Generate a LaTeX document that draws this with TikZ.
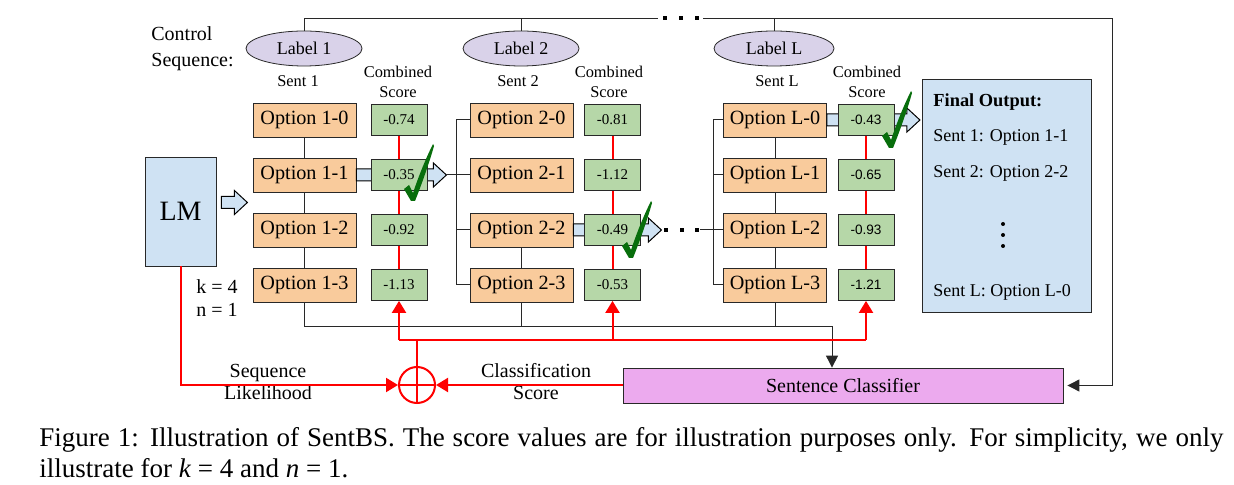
\documentclass[tikz,border=0pt]{standalone}
\usepackage{fontspec}
\setmainfont{Liberation Serif}
\newfontfamily\arialf{Liberation Sans}
\usetikzlibrary{arrows.meta}
\usetikzlibrary{positioning}
\usetikzlibrary{calc}
\usetikzlibrary{shapes.geometric}
\definecolor{mpeach}{RGB}{249,203,156}
\definecolor{mgreen}{RGB}{182,215,168}
\definecolor{mlav}{RGB}{217,210,233}
\definecolor{mblue}{RGB}{207,226,243}
\definecolor{mpink}{RGB}{236,170,238}
\definecolor{mred}{RGB}{255,0,0}
\definecolor{mcheck}{RGB}{8,110,12}
\definecolor{mline}{RGB}{40,40,40}
\tikzset{opt/.style = {draw=mline, fill=mpeach, minimum width=51.5pt, minimum height=17pt, inner sep=0, font=\fontsize{10.1}{12}\selectfont}}
\tikzset{score/.style = {draw=mline, fill=mgreen, minimum width=28pt, minimum height=15.5pt, inner sep=0, font=\fontsize{7.5}{9}\selectfont}}
\tikzset{sscore/.style = {score, font=\arialf\fontsize{6.8}{8}\selectfont}}
\tikzset{lab/.style = {draw=mline, fill=mlav, ellipse, minimum width=58pt, minimum height=17.5pt, inner sep=0, font=\fontsize{9}{11}\selectfont}}
\tikzset{small/.style = {inner sep=0, align=center, font=\fontsize{8.2}{10}\selectfont}}
\tikzset{txt/.style = {inner sep=0, align=center, font=\fontsize{10}{11}\selectfont}}
\tikzset{fo/.style = {inner sep=0, anchor=west, font=\fontsize{9}{11}\selectfont}}
\tikzset{link/.style = {draw=mline, line width=0.5pt}}
\tikzset{arr/.style = {link, -{Triangle[width=6pt,length=6pt]}}}
\tikzset{redl/.style = {draw=mred, line width=1pt}}
\tikzset{redarr/.style = {redl, -{Triangle[width=7pt,length=6pt]}}}
\tikzset{fat/.style = {draw=black, fill=mblue, line width=0.5pt}}
\tikzset{okmark/.pic = {\fill[mcheck] (-7,-11) -- (-2,-15) -- (2,-7) .. controls (8,-25) and (15,-42) .. (22,-56) -- (23,-54) .. controls (18,-36) and (10,-14) .. (4,1) -- (0,1) -- cycle;}}
\newcommand{\fatarr}[3]{\draw[fat] (#1) ++(0,-6) -- ++(#2,0) -- ++(0,-6) -- ++(13,12) coordinate (#3) -- ++(-13,12) -- ++(0,-6) -- ++(-#2,0) -- cycle;}

\begin{document}
\begin{tikzpicture}[x=0.5pt, y=-0.5pt]
       \useasboundingbox (0,0) rectangle (1234,485);

       % control sequence
       \node [txt, align=left, anchor=west, font=\fontsize{10}{13}\selectfont] (ctl) at (151,49) {Control\\Sequence:};
       \node [lab] (lab1) at (304,48.5) {Label 1};
       \node [lab] (lab2) at (521,48.5) {Label 2};
       \node [lab, minimum width=60pt] (labL) at (774,48.5) {Label L};
       \coordinate (t0) at (658,18.5);
       \coordinate (t1) at (703,18.5);
       \coordinate (tR) at (1112,18.5);
       \foreach \x in {665,681,697} \fill (\x-2,16.5) rectangle ++(4,4);

       \node [small] (sent1) at (298,81) {Sent 1};
       \node [small] (sent2) at (518,81) {Sent 2};
       \node [small] (sentL) at (777,81) {Sent L};
       \node [small] (cs1) at (398,82) {Combined\\Score};
       \node [small] (cs2) at (609,82) {Combined\\Score};
       \node [small] (csL) at (867,82) {Combined\\Score};

       % LM
       \node [draw=mline, fill=mblue, minimum width=35.5pt, minimum height=54.5pt, inner sep=0, font=\fontsize{14}{16}\selectfont] (lm) at (180.5,211.5) {LM};
       \node [txt, align=left, anchor=west, font=\fontsize{10}{11.5}\selectfont] (kn) at (196,298.5) {k = 4\\n = 1};

       % options
       \node [opt] (o10) at (304.5,120) {Option 1-0};
       \node [opt] (o11) at (304.5,175) {Option 1-1};
       \node [opt] (o12) at (304.5,230) {Option 1-2};
       \node [opt] (o13) at (304.5,285) {Option 1-3};
       \node [opt] (o20) at (521.5,120) {Option 2-0};
       \node [opt] (o21) at (521.5,175) {Option 2-1};
       \node [opt] (o22) at (521.5,230) {Option 2-2};
       \node [opt] (o23) at (521.5,285) {Option 2-3};
       \node [opt] (oL0) at (775,120) {Option L-0};
       \node [opt] (oL1) at (775,175) {Option L-1};
       \node [opt] (oL2) at (775,230) {Option L-2};
       \node [opt] (oL3) at (775,285) {Option L-3};

       % final output
       \node [draw=mline, fill=mblue, minimum width=84.5pt, minimum height=116.5pt, inner sep=0] (fo) at (1006.5,195.5) {};
       \node [fo, font=\bfseries\fontsize{9.2}{11}\selectfont] (fo0) at (933,102) {Final Output:};
       \node [fo] (fo1) at (933,137) {Sent 1: Option 1-1};
       \node [fo] (fo2) at (933,173) {Sent 2: Option 2-2};
       \foreach \y in {224,235,246} \fill (1003,\y) circle (2);
       \node [fo] (fo4) at (933,292) {Sent L: Option L-0};

       % classifier and sum
       \node [draw=mline, fill=mpink, minimum width=220pt, minimum height=17.5pt, inner sep=0, font=\fontsize{10}{12}\selectfont] (clf) at (843,385.5) {Sentence Classifier};
       \node [draw=mred, circle, line width=1pt, minimum size=18pt, inner sep=0] (pl) at (417,385) {};
       \draw [redl] (pl.north) -- (pl.south);
       \draw [redl] (pl.west) -- (pl.east);
       \node [txt] (sl) at (268,382) {Sequence\\Likelihood};
       \node [txt] (cl) at (536,382) {Classification\\Score};

       % black lines
       \draw [link] (lab1.north) |- (t0);
       \draw [arr, shorten >=2pt] (t1) -- (tR) |- (clf.east);
       \draw [link] (lab2.north) -- (lab2 |- t0);
       \draw [link] (labL.north) -- (labL |- t1);
       \draw [link] (o10) -- (o11) -- (o12) -- (o13);
       \draw [link] (o22) -- (o23);
       \draw [link] (oL0) -- (oL1) -- (oL2) -- (oL3);
       \coordinate (br2) at ($(o21.west)+(-13,0)$);
       \coordinate (brL) at ($(oL2.west)+(-10,0)$);
       \draw [link] (o20.west) -- ++(-13,0) |- (o23.west);
       \draw [link] (o21.west) -- (br2);
       \draw [link] (o22.west) -- ++(-13,0);
       \draw [link] (oL0.west) -- ++(-10,0) |- (oL3.west);
       \draw [link] (oL1.west) -- ++(-10,0);
       \draw [link] (oL2.west) -- (brL);
       \coordinate (b1) at (832,326.5);
       \draw [link] (o13.south) |- (b1);
       \draw [link] (o23.south) -- (o23 |- b1);
       \draw [link] (oL3.south) -- (oL3 |- b1);
       \draw [arr] (b1) -- (b1 |- clf.north);

       % fat arrows
       \fatarr{$(lm.east)+(5,-9)$}{13}{a0}
       \fatarr{o11.east}{77}{a1}
       \fatarr{o22.east}{75}{a2}
       \fatarr{oL0.east}{80}{a3}
       \draw [link] (a1) -- (br2);
       \coordinate (d2) at (700,230);
       \foreach \x in {666,682,697} \fill (\x-2,228) rectangle ++(4,4);
       \draw [link] (d2) -- (brL);

       % scores
       \node [score] (s10) at (399,120) {-0.74};
       \node [score] (s11) at (399,175) {-0.35};
       \node [score] (s12) at (399,230) {-0.92};
       \node [score] (s13) at (399,285) {-1.13};
       \node [score] (s20) at (612.5,120) {-0.81};
       \node [score] (s21) at (612.5,175) {-1.12};
       \node [score] (s22) at (612.5,230) {-0.49};
       \node [score] (s23) at (612.5,285) {-0.53};
       \node [sscore] (sL0) at (866,120) {-0.43};
       \node [sscore] (sL1) at (866,175) {-0.65};
       \node [sscore] (sL2) at (866,230) {-0.93};
       \node [sscore] (sL3) at (866,285) {-1.21};

       % red lines
       \draw [redl] (s10) -- (s11) -- (s12) -- (s13);
       \draw [redl] (s20) -- (s21) -- (s22) -- (s23);
       \draw [redl] (sL0) -- (sL1) -- (sL2) -- (sL3);
       \coordinate (rj) at (417,340);
       \draw [redl] (pl.north) -- (rj);
       \draw [redl] (s13 |- rj) -- (sL3 |- rj);
       \draw [redarr] (s13 |- rj) -- (s13.south);
       \draw [redarr] (s23 |- rj) -- (s23.south);
       \draw [redarr] (sL3 |- rj) -- (sL3.south);
       \draw [redarr] (lm.south) |- (pl.west);
       \draw [redarr] (clf.west |- pl) -- (pl.east);

       % checks
       \pic at (411,200) {okmark};
       \pic at (629,257) {okmark};
       \pic at (889,147) {okmark};

       % caption
       \node [anchor=base west, inner sep=0, text width=592pt, align=justify, font=\fontsize{13.5}{15.5}\selectfont] (cap) at (39,446) {Figure 1: Illustration of SentBS. The score values are for illustration purposes only. For simplicity, we only\linebreak illustrate for \textit{k} = 4 and \textit{n} = 1.};
    \end{tikzpicture}
\end{document}
